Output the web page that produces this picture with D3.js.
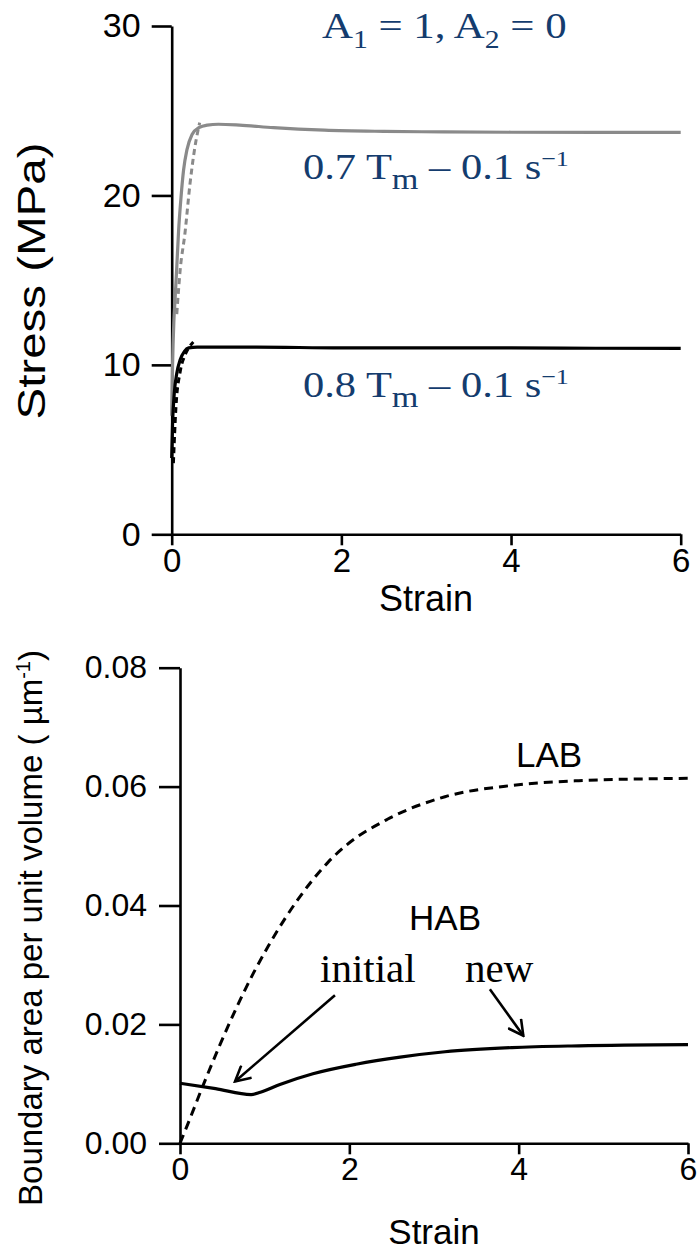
<!DOCTYPE html>
<html>
<head>
<meta charset="utf-8">
<title>Stress and boundary area vs strain</title>
<script src="https://d3js.org/d3.v7.min.js"></script>
<style>
  body { margin: 0; background: #fff; }
  .axis text { font-family: "Liberation Sans", Arial, sans-serif; fill: #000; }
  .axis path, .axis line { stroke: #000; stroke-width: 2.6; fill: none; }
  .label { font-family: "Liberation Sans", Arial, sans-serif; fill: #000; }
  .note { font-family: "Liberation Serif", "Times New Roman", serif; fill: #143c6e; font-size: 36px; }
  .note2 { font-family: "Liberation Serif", "Times New Roman", serif; fill: #000; font-size: 41px; }
</style>
</head>
<body>
<script>
// ---- data ----
var strainTicks = [0, 2, 4, 6];
var stressTicks = [0, 10, 20, 30];
var areaTicks = [0, 0.02, 0.04, 0.06, 0.08];

// 0.7 Tm, 0.1 s-1 (grey)
var s07Strain = [0, 0.01, 0.025, 0.04, 0.06, 0.08, 0.11, 0.14, 0.18, 0.24, 0.32, 0.42, 0.55, 0.8, 1.2, 1.8, 2.5, 3.2, 4, 5, 6];
var s07Stress = [7.0, 9.9, 12.5, 13.9, 15.8, 17.8, 19.9, 21.5, 22.7, 23.6, 24.0, 24.15, 24.2, 24.15, 24.0, 23.85, 23.78, 23.75, 23.73, 23.72, 23.72];
var s07DashStrain = [0.06, 0.1, 0.157, 0.216, 0.275, 0.33];
var s07DashStress = [13.0, 15.6, 17.8, 20.7, 22.9, 24.3];

// 0.8 Tm, 0.1 s-1 (black)
var s08Strain = [0, 0.01, 0.03, 0.06, 0.1, 0.15, 0.2, 0.3, 0.5, 1, 2, 3, 4, 5, 6];
var s08Stress = [4.5, 6.5, 8.3, 9.5, 10.3, 10.8, 11.0, 11.05, 11.05, 11.05, 11.0, 11.0, 11.0, 10.98, 10.97];
var s08DashStrain = [0.02, 0.05, 0.1, 0.15, 0.2, 0.255];
var s08DashStress = [4.2, 7.5, 9.6, 10.5, 11.0, 11.35];

// boundary area per unit volume
var labStrain = [0, 0.08, 0.28, 0.47, 0.67, 0.87, 1.04, 1.24, 1.55, 1.75, 1.97, 2.45, 3.13, 3.92, 4.71, 5.5, 6.0];
var labArea = [0, 0.0028, 0.0100, 0.0165, 0.0229, 0.0287, 0.0331, 0.0378, 0.0440, 0.0473, 0.0502, 0.0545, 0.0583, 0.0602, 0.0610, 0.0613, 0.0614];
var habStrain = [0, 0.42, 0.84, 0.95, 1.18, 1.57, 2.08, 2.6, 3.13, 3.92, 4.71, 6.0];
var habArea = [0.0101, 0.0092, 0.0082, 0.0086, 0.0099, 0.0117, 0.0133, 0.0145, 0.0154, 0.0161, 0.0164, 0.0166];

// arrows: [x1, y1, x2, y2] in data units
var initialArrow = [1.83, 0.0249, 0.65, 0.0104];
var newArrow = [3.66, 0.0259, 4.055, 0.0181];

function zip(xs, ys) { return xs.map(function(d, i) { return [d, ys[i]]; }); }

var svg = d3.select("body").append("svg")
    .attr("width", 697)
    .attr("height", 1250);

svg.append("defs").append("marker")
    .attr("id", "head")
    .attr("markerUnits", "userSpaceOnUse")
    .attr("viewBox", "-16 -9 18 18")
    .attr("refX", 0).attr("refY", 0)
    .attr("markerWidth", 18).attr("markerHeight", 18)
    .attr("orient", "auto")
  .append("path")
    .attr("d", "M-15,-8 L0,0 L-15,8")
    .attr("fill", "none")
    .attr("stroke", "#000")
    .attr("stroke-width", 2.6);

// ---------- top chart: stress ----------
var x1 = d3.scaleLinear().domain([0, 6]).range([171.7, 680.7]);
var y1 = d3.scaleLinear().domain([0, 30]).range([534.3, 26]);

svg.append("g")
    .attr("class", "axis")
    .attr("transform", "translate(0," + y1(0) + ")")
    .call(d3.axisBottom(x1).tickValues(strainTicks).tickSize(11).tickSizeOuter(0).tickPadding(3).tickFormat(d3.format("d")))
    .selectAll("text").style("font-size", "33px");

svg.append("g")
    .attr("class", "axis")
    .attr("transform", "translate(" + x1(0) + ",0)")
    .call(d3.axisLeft(y1).tickValues(stressTicks).tickSize(20).tickSizeOuter(0).tickPadding(11).tickFormat(d3.format("d")))
    .selectAll("text").style("font-size", "34px");

var line1 = d3.line()
    .x(function(d) { return x1(d[0]); })
    .y(function(d) { return y1(d[1]); })
    .curve(d3.curveMonotoneX);

svg.append("path").datum(zip(s07DashStrain, s07DashStress))
    .attr("d", line1).attr("fill", "none").attr("stroke", "#8a8a8a")
    .attr("stroke-width", 3).attr("stroke-dasharray", "6,4");
svg.append("path").datum(zip(s07Strain, s07Stress))
    .attr("d", line1).attr("fill", "none").attr("stroke", "#8a8a8a").attr("stroke-width", 3.2);

svg.append("path").datum(zip(s08DashStrain, s08DashStress))
    .attr("d", line1).attr("fill", "none").attr("stroke", "#000")
    .attr("stroke-width", 3).attr("stroke-dasharray", "6,4");
svg.append("path").datum(zip(s08Strain, s08Stress))
    .attr("d", line1).attr("fill", "none").attr("stroke", "#000").attr("stroke-width", 3.2);

svg.append("text").attr("class", "label")
    .attr("x", 426).attr("y", 611)
    .attr("text-anchor", "middle").style("font-size", "36px")
    .text("Strain");

svg.append("text").attr("class", "label")
    .attr("transform", "translate(45,281) rotate(-90)")
    .attr("text-anchor", "middle").style("font-size", "38px")
    .attr("textLength", 277).attr("lengthAdjust", "spacingAndGlyphs")
    .text("Stress (MPa)");

// annotations (serif, slightly widened like the original)
var t = svg.append("g").attr("transform", "translate(322,38) scale(1.19,1)")
  .append("text").attr("class", "note");
t.append("tspan").text("A");
t.append("tspan").attr("dy", 10).style("font-size", "25px").text("1");
t.append("tspan").attr("dy", -10).text(" = 1, A");
t.append("tspan").attr("dy", 10).style("font-size", "25px").text("2");
t.append("tspan").attr("dy", -10).text(" = 0");

function rateLabel(txt, yb) {
  var n = svg.append("g").attr("transform", "translate(303," + yb + ") scale(1.18,1)")
    .append("text").attr("class", "note");
  n.append("tspan").text(txt + " T");
  n.append("tspan").attr("dy", 10).style("font-size", "29px").text("m");
  n.append("tspan").attr("dy", -10).text(" \u2013 0.1 s");
  n.append("tspan").attr("dy", -13).style("font-size", "22px").text("\u22121");
}
rateLabel("0.7", 179);
rateLabel("0.8", 397);

// ---------- bottom chart: boundary area ----------
var x2 = d3.scaleLinear().domain([0, 6]).range([180, 688]);
var y2 = d3.scaleLinear().domain([0, 0.08]).range([1143.3, 667.7]);

svg.append("g")
    .attr("class", "axis")
    .attr("transform", "translate(0," + y2(0) + ")")
    .call(d3.axisBottom(x2).tickValues(strainTicks).tickSize(11).tickSizeOuter(0).tickPadding(3).tickFormat(d3.format("d")))
    .selectAll("text").style("font-size", "32px");

svg.append("g")
    .attr("class", "axis")
    .attr("transform", "translate(" + x2(0) + ",0)")
    .call(d3.axisLeft(y2).tickValues(areaTicks).tickSize(21).tickSizeOuter(0).tickPadding(12).tickFormat(d3.format(".2f")))
    .selectAll("text").style("font-size", "32px");

var line2 = d3.line()
    .x(function(d) { return x2(d[0]); })
    .y(function(d) { return y2(d[1]); })
    .curve(d3.curveMonotoneX);

svg.append("path").datum(zip(labStrain, labArea))
    .attr("d", line2).attr("fill", "none").attr("stroke", "#000")
    .attr("stroke-width", 3).attr("stroke-dasharray", "9,6");
svg.append("path").datum(zip(habStrain, habArea))
    .attr("d", line2).attr("fill", "none").attr("stroke", "#000").attr("stroke-width", 3.2);

[initialArrow, newArrow].forEach(function(a) {
  svg.append("line")
      .attr("x1", x2(a[0])).attr("y1", y2(a[1]))
      .attr("x2", x2(a[2])).attr("y2", y2(a[3]))
      .attr("stroke", "#000").attr("stroke-width", 2.6)
      .attr("marker-end", "url(#head)");
});

svg.append("text").attr("class", "label")
    .attr("x", 549).attr("y", 767).attr("text-anchor", "middle")
    .style("font-size", "35px").text("LAB");
svg.append("text").attr("class", "label")
    .attr("x", 445).attr("y", 930).attr("text-anchor", "middle")
    .style("font-size", "35px").text("HAB");
svg.append("text").attr("class", "note2")
    .attr("x", 320).attr("y", 982).text("initial");
svg.append("text").attr("class", "note2")
    .attr("x", 465).attr("y", 982).text("new");

svg.append("text").attr("class", "label")
    .attr("x", 434).attr("y", 1244)
    .attr("text-anchor", "middle").style("font-size", "35px")
    .text("Strain");

var yl = svg.append("text").attr("class", "label")
    .attr("transform", "translate(42,928) rotate(-90)")
    .attr("text-anchor", "middle").style("font-size", "33px");
yl.append("tspan").text("Boundary area per unit volume ( \u00b5m");
yl.append("tspan").attr("dy", -12).style("font-size", "20px").text("-1");
yl.append("tspan").attr("dy", 12).text(")");
</script>
</body>
</html>
